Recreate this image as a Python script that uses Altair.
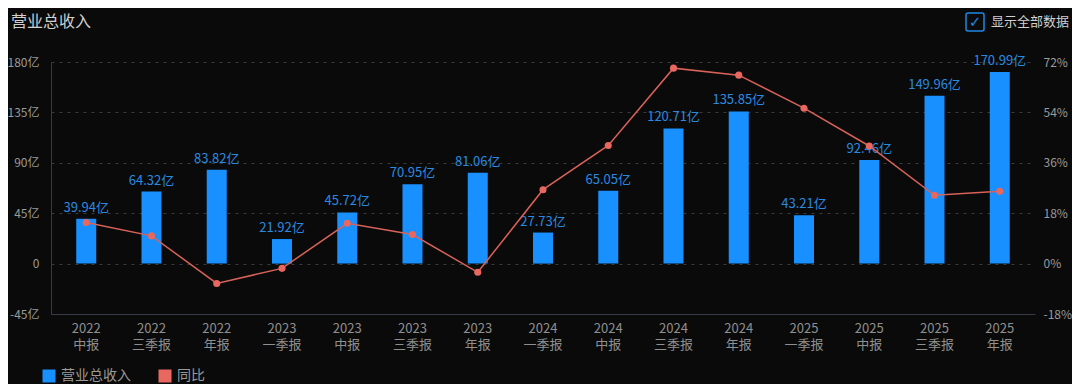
import altair as alt
import pandas as pd

periods = ["2022 中报", "2022 三季报", "2022 年报", "2023 一季报", "2023 中报", "2023 三季报",
           "2023 年报", "2024 一季报", "2024 中报", "2024 三季报", "2024 年报", "2025 一季报",
           "2025 中报", "2025 三季报", "2025 年报"]
revenue = [39.94, 64.32, 83.82, 21.92, 45.72, 70.95, 81.06, 27.73, 65.05, 120.71, 135.85, 43.21,
           92.46, 149.96, 170.99]
yoy = [14.7, 9.9, -7.1, -1.7, 14.4, 10.4, -3.1, 26.4, 42.2, 69.8, 67.3, 55.5, 42.0, 24.4, 25.8]
series = ["营业总收入", "同比"]
colors = ["#1890ff", "#e8685f"]
left_ticks = [-45, 0, 45, 90, 135, 180]
right_ticks = [-18, 0, 18, 36, 54, 72]

FONT = "Noto Sans CJK SC"

df = pd.DataFrame({
    "period": periods,
    "revenue": revenue,
    "yoy": yoy,
    "label": [f"{v:.2f}亿" for v in revenue],
    "series": series[0],
})

x = alt.X("period:N", sort=periods,
          scale=alt.Scale(paddingInner=0, paddingOuter=0.04),
          axis=alt.Axis(title=None, labelExpr="split(datum.label, ' ')", labelAngle=0,
                        labelFontSize=13, labelColor="#8f8f8f", labelLineHeight=16,
                        labelPadding=8, labelBaseline="top", ticks=False, domainColor="#363b47",
                        grid=False, labelFont=FONT))

base = alt.Chart(df)

bars = base.mark_bar(size=20).encode(
    x=x,
    y=alt.Y("revenue:Q", scale=alt.Scale(domain=[-45, 180], nice=False, zero=False),
            axis=alt.Axis(title=None, values=left_ticks,
                          labelExpr="datum.value == 0 ? '0' : datum.value + '亿'",
                          labelFontSize=12, labelColor="#9a9a9a", labelPadding=12, ticks=False,
                          domainColor="#363b47", gridColor="#3a3a3a", gridDash=[3, 5],
                          labelFont=FONT)),
    color=alt.Color("series:N", scale=alt.Scale(domain=series, range=colors),
                    legend=alt.Legend(title=None, orient="none", legendX=-9, legendY=307,
                                      direction="horizontal", symbolType="square",
                                      symbolSize=169, symbolStrokeWidth=0, labelFontSize=14,
                                      labelColor="#9a9a9a", labelOffset=5, columnPadding=27,
                                      labelFont=FONT)),
)

bar_labels = base.mark_text(dy=-4, baseline="bottom", fontSize=13, color="#2a8ae0",
                            font=FONT).encode(x=x, y="revenue:Q", text="label:N")

line = base.mark_line(color="#d8625a", strokeWidth=1.5).encode(
    x=x,
    y=alt.Y("yoy:Q", scale=alt.Scale(domain=[-18, 72], nice=False, zero=False),
            axis=alt.Axis(orient="right", title=None, values=right_ticks,
                          labelExpr="datum.value + '%'", grid=False, domain=False, ticks=False,
                          labelFontSize=12, labelColor="#9a9a9a", labelPadding=8,
                          labelFont=FONT)),
)
points = base.mark_point(filled=True, size=50, color="#e8685f", opacity=1).encode(
    x=x, y="yoy:Q")

deco = pd.DataFrame({"t": ["显示全部数据"], "title": ["营业总收入"]})
box = alt.Chart(deco).mark_rect(fill="transparent", stroke="#1e88e5", strokeWidth=1.5,
                                cornerRadius=2).encode(
    x=alt.value(915), x2=alt.value(933), y=alt.value(-49), y2=alt.value(-31))
check = alt.Chart(deco).mark_text(text="✓", font="DejaVu Sans", fontSize=15, color="#1e88e5",
                                  align="center", baseline="middle").encode(
    x=alt.value(924), y=alt.value(-40))
check_text = alt.Chart(deco).mark_text(font=FONT, fontSize=13, color="#d0d0d0", align="left",
                                       baseline="middle").encode(
    x=alt.value(940), y=alt.value(-40), text="t:N")
title_text = alt.Chart(deco).mark_text(font=FONT, fontSize=16, color="#d0d0d0", align="left",
                                       baseline="middle").encode(
    x=alt.value(-40), y=alt.value(-40), text="title:N")

chart = alt.layer(
    alt.layer(bars, bar_labels),
    alt.layer(line, points),
    box, check, check_text, title_text,
).resolve_scale(y="independent").properties(
    width=984, height=252,
    padding={"left": 43, "top": 54, "right": 37, "bottom": 70},
    autosize=alt.AutoSizeParams(type="none"),
    background="#0a0a0a",
).configure(font=FONT).configure_view(stroke=None, strokeWidth=0).configure_axis(
    gridColor="#3a3a3a", gridDash=[3, 5], domainColor="#363b47"
)

chart.save("out.html", embed_options={"renderer": "svg", "actions": False})
